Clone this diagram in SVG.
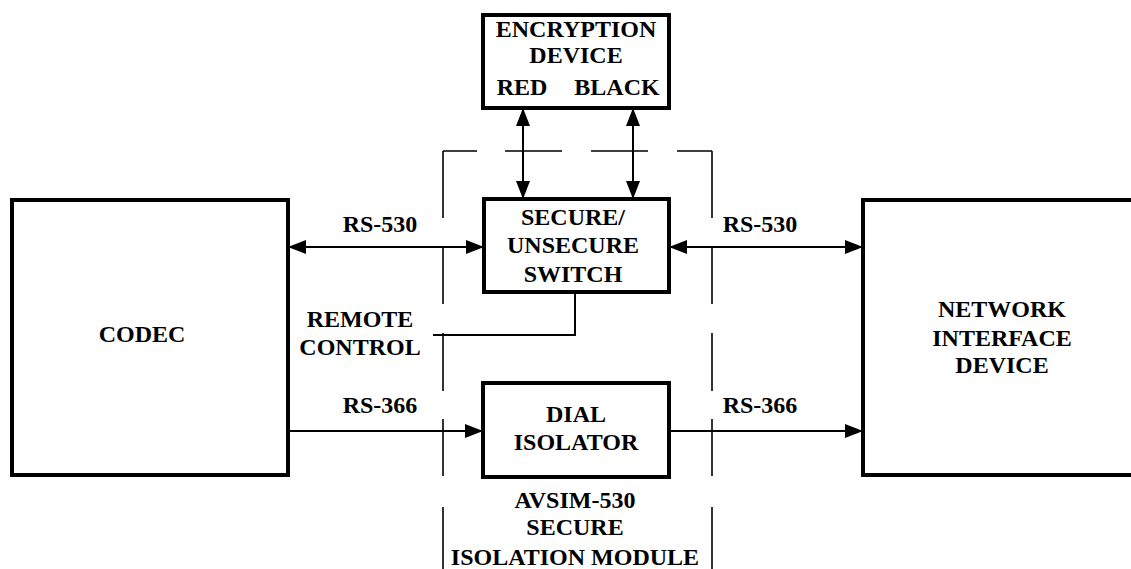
<svg xmlns="http://www.w3.org/2000/svg" width="1131" height="569" viewBox="0 0 1131 569">
<style>
.box{fill:#fff;stroke:#000;stroke-width:4}
.ln{fill:none;stroke:#000;stroke-width:2}
.dash{fill:none;stroke:#000;stroke-width:1.6}
text{font-family:"Liberation Serif","Times New Roman",serif;font-weight:bold;font-size:24px;fill:#000;text-anchor:middle}
</style>
<defs>
<marker id="ah" markerUnits="userSpaceOnUse" markerWidth="18" markerHeight="14" refX="18" refY="7" orient="auto-start-reverse" viewBox="0 0 18 14">
<path d="M0,0 L18,7 L0,14 z" fill="#000"/>
</marker>
</defs>
<rect width="1131" height="569" fill="#fff"/>
<g id="module-boundary">
<path class="dash" d="M443,151 H477 M505,151 H562 M591,151 H648 M677,151 H712"/>
<path class="dash" d="M443,151 V218 M443,247 V304 M443,333 V391 M443,419 V476 M443,507 V569"/>
<path class="dash" d="M712,151 V218 M712,247 V304 M712,333 V391 M712,419 V476 M712,507 V569"/>
<text x="575" y="508">AVSIM-530</text>
<text x="575" y="535">SECURE</text>
<text x="575" y="565">ISOLATION MODULE</text>
</g>
<g id="connectors">
<line class="ln" x1="523" y1="108" x2="523" y2="199" marker-start="url(#ah)" marker-end="url(#ah)"/>
<line class="ln" x1="633" y1="108" x2="633" y2="199" marker-start="url(#ah)" marker-end="url(#ah)"/>
<line class="ln" x1="288" y1="247" x2="484" y2="247" marker-start="url(#ah)" marker-end="url(#ah)"/>
<line class="ln" x1="669" y1="247" x2="863" y2="247" marker-start="url(#ah)" marker-end="url(#ah)"/>
<line class="ln" x1="288" y1="431" x2="483" y2="431" marker-end="url(#ah)"/>
<line class="ln" x1="669" y1="431" x2="863" y2="431" marker-end="url(#ah)"/>
<polyline class="ln" points="575,292 575,335 433,335"/>
<text x="380" y="232">RS-530</text>
<text x="760" y="232">RS-530</text>
<text x="380" y="413">RS-366</text>
<text x="760" y="413">RS-366</text>
<text x="360" y="327">REMOTE</text>
<text x="360" y="355">CONTROL</text>
</g>
<g id="encryption-device">
<rect class="box" x="483" y="15" width="186" height="93"/>
<text x="576" y="37">ENCRYPTION</text>
<text x="576" y="63">DEVICE</text>
<text x="522" y="95">RED</text>
<text x="617" y="95">BLACK</text>
</g>
<g id="switch">
<rect class="box" x="484" y="199" width="185" height="93"/>
<text x="573" y="225">SECURE/</text>
<text x="573" y="253">UNSECURE</text>
<text x="573" y="282">SWITCH</text>
</g>
<g id="dial-isolator">
<rect class="box" x="483" y="383" width="186" height="94"/>
<text x="576" y="422">DIAL</text>
<text x="576" y="450">ISOLATOR</text>
</g>
<g id="codec">
<rect class="box" x="12" y="200" width="276" height="275"/>
<text x="142" y="342">CODEC</text>
</g>
<g id="network-interface-device">
<rect class="box" x="863" y="200" width="280" height="275"/>
<text x="1002" y="317">NETWORK</text>
<text x="1002" y="346">INTERFACE</text>
<text x="1002" y="373">DEVICE</text>
</g>
</svg>
